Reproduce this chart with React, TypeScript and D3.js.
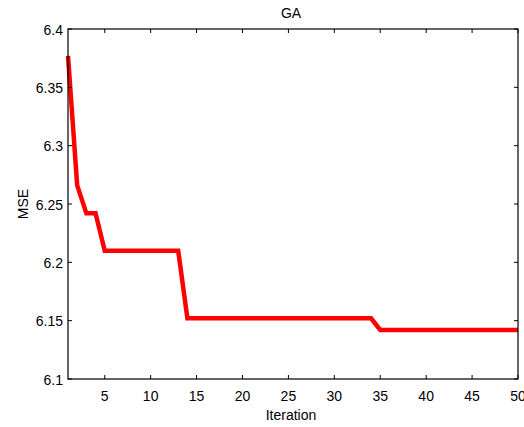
import React from "react";
import * as d3 from "d3";

const iterations = Array.from({ length: 50 }, (_, i) => i + 1);
const mse = [
  6.377, 6.266, 6.242, 6.242, 6.21, 6.21, 6.21, 6.21, 6.21, 6.21,
  6.21, 6.21, 6.21, 6.152, 6.152, 6.152, 6.152, 6.152, 6.152, 6.152,
  6.152, 6.152, 6.152, 6.152, 6.152, 6.152, 6.152, 6.152, 6.152, 6.152,
  6.152, 6.152, 6.152, 6.152, 6.142, 6.142, 6.142, 6.142, 6.142, 6.142,
  6.142, 6.142, 6.142, 6.142, 6.142, 6.142, 6.142, 6.142, 6.142, 6.142,
];
const xTicks = [5, 10, 15, 20, 25, 30, 35, 40, 45, 50];
const yTicks = [6.1, 6.15, 6.2, 6.25, 6.3, 6.35, 6.4];

export default function App() {
  const W = 524, H = 427;
  const L = 68, R = 518, T = 29, B = 379;
  const x = d3.scaleLinear().domain([1, 50]).range([L, R]);
  const y = d3.scaleLinear().domain([6.1, 6.4]).range([B, T]);
  const line = d3.line<number>().x((_, i) => x(iterations[i])).y((d) => y(d));
  const font = "Liberation Sans, Arial, sans-serif";
  const fs = 14;
  const tl = 4;
  return (
    <svg width={W} height={H} style={{ position: "absolute", left: 0, top: 0 }} fontFamily={font}>
      <rect width={W} height={H} fill="white" />
      <path d={line(mse) || ""} fill="none" stroke="#ff0000" strokeWidth={4.5} strokeLinejoin="miter" />
      {xTicks.map((t) => (
        <g key={"x" + t}>
          <line x1={x(t)} x2={x(t)} y1={B} y2={B - tl} stroke="#000" />
          <line x1={x(t)} x2={x(t)} y1={T} y2={T + tl} stroke="#000" />
          <text x={x(t)} y={B + 22} textAnchor="middle" fontSize={fs} fill="#000">{t}</text>
        </g>
      ))}
      {yTicks.map((t) => (
        <g key={"y" + t}>
          <line x1={L} x2={L + tl} y1={y(t)} y2={y(t)} stroke="#000" />
          <line x1={R} x2={R - tl} y1={y(t)} y2={y(t)} stroke="#000" />
          <text x={L - 5} y={y(t) + 5.5} textAnchor="end" fontSize={fs} fill="#000">{String(t)}</text>
        </g>
      ))}
      <rect x={L} y={T} width={R - L} height={B - T} fill="none" stroke="#000" strokeWidth={1.2} />
      <text x={291} y={18} textAnchor="middle" fontSize={fs} fill="#000">GA</text>
      <text x={291} y={420} textAnchor="middle" fontSize={fs} fill="#000">Iteration</text>
      <text transform={`translate(28,${(T + B) / 2}) rotate(-90)`} textAnchor="middle" fontSize={fs} fill="#000">MSE</text>
    </svg>
  );
}
